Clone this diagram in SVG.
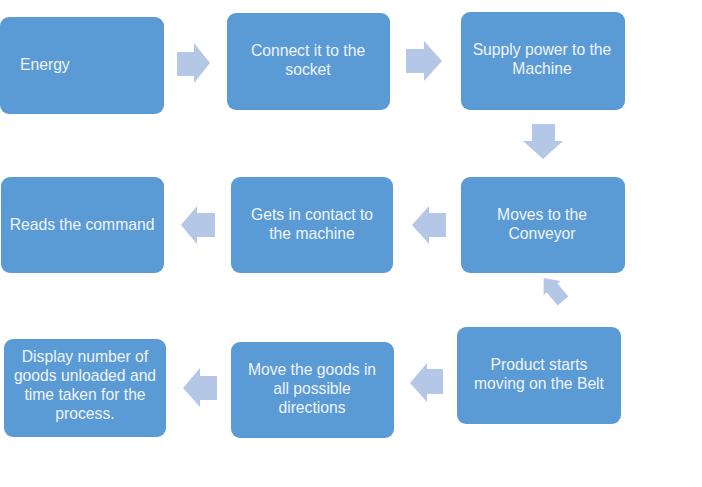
<svg xmlns="http://www.w3.org/2000/svg" width="702" height="487" viewBox="0 0 702 487">
<style>
.box{fill:#5b9bd5}
.arr{fill:#b4c7e7}
text{font-family:"Liberation Sans",Arial,sans-serif;font-size:15.7px;fill:#eef4fb}
.c{text-anchor:middle}
</style>
<rect width="702" height="487" fill="#ffffff"/>
<g id="connectors">
<polygon class="arr" points="177,52 194,52 194,43 210,63 194,83 194,76 177,76"/>
<polygon class="arr" points="406,49 424,49 424,41 442,61 424,81 424,73 406,73"/>
<polygon class="arr" points="532,124 555,124 555,141 563,141 543,159 523,141 532,141"/>
<polygon class="arr" points="446,213 429,213 429,206 412,225 429,244 429,237 446,237"/>
<polygon class="arr" points="215,213 197,213 197,206 181,225 197,244 197,237 215,237"/>
<polygon class="arr" points="0,-7 17,-7 17,-11 30,0 17,11 17,7 0,7" transform="translate(563,301) rotate(230)"/>
<polygon class="arr" points="443,369 427,369 427,363 410,383 427,402 427,394 443,394"/>
<polygon class="arr" points="217,376 200,376 200,368 183,388 200,407 200,400 217,400"/>
</g>
<g id="n1"><rect class="box" x="0" y="17" width="164" height="97" rx="9"/><text x="20" y="70">Energy</text></g>
<g id="n2"><rect class="box" x="227" y="13" width="163" height="97" rx="9"/><text class="c" x="308" y="56">Connect it to the</text><text class="c" x="308" y="75">socket</text></g>
<g id="n3"><rect class="box" x="461" y="12" width="164" height="98" rx="9"/><text class="c" x="542" y="55">Supply power to the</text><text class="c" x="542" y="74">Machine</text></g>
<g id="n4"><rect class="box" x="461" y="177" width="164" height="96" rx="9"/><text class="c" x="542" y="220">Moves to the</text><text class="c" x="542" y="239">Conveyor</text></g>
<g id="n5"><rect class="box" x="231" y="177" width="162" height="96" rx="9"/><text class="c" x="312" y="220">Gets in contact to</text><text class="c" x="312" y="239">the machine</text></g>
<g id="n6"><rect class="box" x="1" y="177" width="163" height="96" rx="9"/><text class="c" x="82" y="230">Reads the command</text></g>
<g id="n7"><rect class="box" x="457" y="327" width="164" height="97" rx="9"/><text class="c" x="539" y="370">Product starts</text><text class="c" x="539" y="389">moving on the Belt</text></g>
<g id="n8"><rect class="box" x="231" y="342" width="163" height="96" rx="9"/><text class="c" x="312" y="375">Move the goods in</text><text class="c" x="312" y="394">all possible</text><text class="c" x="312" y="413">directions</text></g>
<g id="n9"><rect class="box" x="4" y="339" width="162" height="98" rx="9"/><text class="c" x="85" y="362">Display number of</text><text class="c" x="85" y="381">goods unloaded  and</text><text class="c" x="85" y="400">time taken for the</text><text class="c" x="85" y="419">process.</text></g>
</svg>
